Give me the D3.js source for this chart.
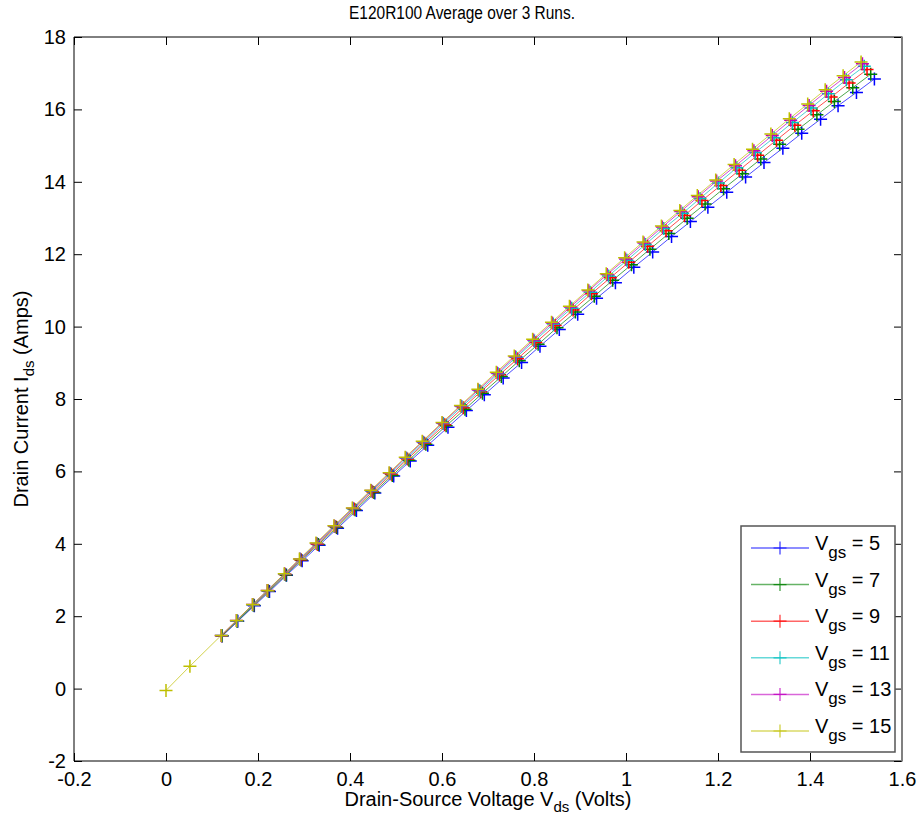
<!DOCTYPE html>
<html>
<head>
<meta charset="utf-8">
<script src="https://cdn.jsdelivr.net/npm/d3@7"></script>
<style>
  html, body { margin: 0; padding: 0; background: #fff; }
  svg text { font-family: "Liberation Sans Narrow", "Arial Narrow", "Liberation Sans", Arial, sans-serif; fill: #000; }
</style>
</head>
<body>
<svg id="chart" width="920" height="828"></svg>
<script>
// Gate-source voltage levels and their colours
const vgsLevels = [5, 7, 9, 11, 13, 15];
const seriesColors = ["#0000ff", "#008000", "#ff0000", "#00bfbf", "#bf00bf", "#bfbf00"];

// Measured drain-source voltage (V) and drain current (A), averaged over 3 runs
const vds5  = [0.122,0.156,0.192,0.225,0.262,0.296,0.333,0.373,0.414,0.454,0.495,0.531,0.569,0.613,0.653,0.692,0.733,0.773,0.813,0.855,0.895,0.936,0.977,1.017,1.058,1.099,1.140,1.178,1.219,1.260,1.300,1.341,1.382,1.423,1.461,1.501,1.540];
const ids5  = [1.45,1.86,2.29,2.68,3.13,3.53,3.96,4.43,4.92,5.40,5.87,6.29,6.72,7.22,7.68,8.12,8.58,9.01,9.46,9.92,10.34,10.78,11.21,11.64,12.06,12.49,12.90,13.30,13.71,14.13,14.53,14.93,15.34,15.73,16.10,16.47,16.84];

const vds7  = [0.122,0.155,0.191,0.223,0.261,0.294,0.331,0.371,0.411,0.452,0.492,0.528,0.565,0.609,0.650,0.688,0.729,0.768,0.809,0.850,0.890,0.931,0.971,1.012,1.052,1.093,1.133,1.172,1.212,1.253,1.293,1.334,1.374,1.415,1.453,1.493,1.532];
const ids7  = [1.46,1.86,2.30,2.69,3.14,3.55,3.98,4.45,4.94,5.42,5.89,6.31,6.75,7.26,7.72,8.16,8.62,9.06,9.51,9.97,10.40,10.84,11.28,11.71,12.14,12.57,12.99,13.39,13.81,14.22,14.63,15.04,15.45,15.85,16.22,16.60,16.97];

const vds9  = [0.121,0.154,0.190,0.222,0.259,0.293,0.329,0.369,0.409,0.449,0.490,0.525,0.562,0.606,0.646,0.684,0.725,0.764,0.804,0.846,0.885,0.925,0.966,1.006,1.047,1.087,1.127,1.165,1.206,1.246,1.286,1.327,1.367,1.407,1.446,1.485,1.524];
const ids9  = [1.46,1.87,2.31,2.70,3.15,3.56,3.99,4.47,4.96,5.44,5.92,6.34,6.78,7.29,7.76,8.20,8.67,9.11,9.56,10.03,10.46,10.91,11.35,11.78,12.22,12.65,13.07,13.48,13.90,14.32,14.73,15.15,15.56,15.96,16.34,16.73,17.10];

const vds11 = [0.121,0.154,0.189,0.221,0.258,0.292,0.328,0.367,0.407,0.447,0.488,0.523,0.560,0.603,0.643,0.682,0.722,0.761,0.801,0.842,0.882,0.922,0.962,1.002,1.042,1.082,1.123,1.161,1.201,1.241,1.281,1.322,1.362,1.402,1.440,1.479,1.518];
const ids11 = [1.47,1.87,2.31,2.70,3.16,3.57,4.01,4.48,4.97,5.46,5.94,6.36,6.80,7.32,7.79,8.23,8.70,9.15,9.60,10.07,10.51,10.95,11.40,11.83,12.27,12.71,13.13,13.54,13.97,14.39,14.81,15.22,15.64,16.04,16.43,16.82,17.19];

const vds13 = [0.120,0.153,0.188,0.220,0.258,0.291,0.327,0.366,0.406,0.446,0.486,0.521,0.558,0.601,0.641,0.679,0.720,0.759,0.799,0.840,0.879,0.919,0.959,0.999,1.039,1.079,1.119,1.157,1.197,1.238,1.278,1.318,1.358,1.398,1.436,1.475,1.514];
const ids13 = [1.47,1.88,2.32,2.71,3.17,3.58,4.01,4.49,4.98,5.47,5.95,6.38,6.82,7.34,7.81,8.25,8.72,9.17,9.63,10.10,10.54,10.99,11.44,11.87,12.31,12.75,13.18,13.59,14.02,14.44,14.86,15.28,15.70,16.11,16.50,16.88,17.26];

const vds15 = [0.000,0.052,0.120,0.153,0.188,0.220,0.257,0.290,0.326,0.365,0.405,0.445,0.485,0.520,0.557,0.600,0.640,0.678,0.718,0.757,0.797,0.838,0.877,0.917,0.957,0.997,1.037,1.077,1.117,1.155,1.195,1.235,1.275,1.315,1.355,1.395,1.433,1.472,1.511];
const ids15 = [-0.05,0.62,1.47,1.88,2.32,2.71,3.17,3.58,4.02,4.50,4.99,5.48,5.96,6.39,6.83,7.35,7.82,8.27,8.74,9.19,9.65,10.12,10.56,11.01,11.46,11.90,12.34,12.78,13.21,13.62,14.05,14.48,14.90,15.32,15.74,16.15,16.54,16.93,17.31];

// Axis tick values
const xTicks = [-0.2, 0, 0.2, 0.4, 0.6, 0.8, 1.0, 1.2, 1.4, 1.6];
const yTicks = [-2, 0, 2, 4, 6, 8, 10, 12, 14, 16, 18];

(function () {
  const vdsSets = [vds5, vds7, vds9, vds11, vds13, vds15];
  const idsSets = [ids5, ids7, ids9, ids11, ids13, ids15];
  const series = vgsLevels.map((vgs, i) => ({
    vgs,
    color: seriesColors[i],
    points: vdsSets[i].map((v, j) => ({ v, i: idsSets[i][j] }))
  }));

  const svg = d3.select("#chart");
  const pL = 74, pR = 902, pT = 37, pB = 761;

  const x = d3.scaleLinear().domain([-0.2, 1.6]).range([pL, pR]);
  const y = d3.scaleLinear().domain([-2, 18]).range([pB, pT]);

  const fmt = d => String(Math.round(d * 10) / 10);
  const tickLen = 8;
  const fontSize = 20;
  const fontStack = '"Liberation Sans Narrow", "Arial Narrow", "Liberation Sans", Arial, sans-serif';

  // Bottom axis with labels, ticks pointing inward
  const gx = svg.append("g").attr("transform", `translate(0,${pB})`)
    .call(d3.axisBottom(x).tickValues(xTicks).tickFormat(fmt).tickSize(-tickLen).tickPadding(10));
  // Top ticks
  const gxTop = svg.append("g").attr("transform", `translate(0,${pT})`)
    .call(d3.axisTop(x).tickValues(xTicks).tickFormat("").tickSize(-tickLen));
  // Left axis with labels
  const gy = svg.append("g").attr("transform", `translate(${pL},0)`)
    .call(d3.axisLeft(y).tickValues(yTicks).tickFormat(fmt).tickSize(-tickLen).tickPadding(8));
  // Right ticks
  const gyRight = svg.append("g").attr("transform", `translate(${pR},0)`)
    .call(d3.axisRight(y).tickValues(yTicks).tickFormat("").tickSize(-tickLen));

  [gx, gxTop, gy, gyRight].forEach(g => {
    g.select(".domain").remove();
    g.selectAll(".tick line").attr("stroke", "#000").attr("stroke-width", 1);
    g.selectAll(".tick text").attr("font-size", fontSize)
      .style("font-family", fontStack).attr("fill", "#000");
  });
  gx.selectAll(".tick text").attr("dy", "0.75em");

  // Series lines and "+" markers (Vgs = 5 first, Vgs = 15 on top)
  const line = d3.line().x(d => x(d.v)).y(d => y(d.i));
  const plot = svg.append("g");
  const half = 6.5;
  const plusPath = `M${-half},0H${half}M0,${-half}V${half}`;

  series.forEach(s => {
    const g = plot.append("g");
    g.append("path").datum(s.points)
      .attr("d", line)
      .attr("fill", "none")
      .attr("stroke", s.color)
      .attr("stroke-opacity", 0.7)
      .attr("stroke-width", 1);
    g.selectAll("path.mk").data(s.points).join("path")
      .attr("class", "mk")
      .attr("transform", d => `translate(${x(d.v)},${y(d.i)})`)
      .attr("d", plusPath)
      .attr("stroke", s.color)
      .attr("stroke-width", 1.5)
      .attr("fill", "none");
  });

  // Axes frame
  svg.append("path")
    .attr("d", `M${pR},${pT}H${pL}V${pB}H${pR}`)
    .attr("fill", "none").attr("stroke", "#000").attr("stroke-width", 1);
  svg.append("line").attr("x1", pR).attr("x2", pR).attr("y1", pT - 0.5).attr("y2", pB + 0.5)
    .attr("stroke", "#808080").attr("stroke-width", 2);

  // Title (condensed face)
  svg.append("text").attr("x", 462).attr("y", 19)
    .attr("text-anchor", "middle").attr("font-size", 18)
    .attr("textLength", 226).attr("lengthAdjust", "spacingAndGlyphs")
    .text("E120R100 Average over 3 Runs.");

  // X axis label with subscript
  const xl = svg.append("text").attr("x", (pL + pR) / 2).attr("y", 806)
    .attr("text-anchor", "middle").attr("font-size", fontSize);
  xl.append("tspan").text("Drain-Source Voltage V");
  xl.append("tspan").attr("dy", 6).attr("font-size", 15).text("ds");
  xl.append("tspan").attr("dy", -6).text(" (Volts)");

  // Y axis label with subscript
  const yl = svg.append("text")
    .attr("transform", `translate(28,${(pT + pB) / 2}) rotate(-90)`)
    .attr("text-anchor", "middle").attr("font-size", fontSize);
  yl.append("tspan").text("Drain Current I");
  yl.append("tspan").attr("dy", 6).attr("font-size", 15).text("ds");
  yl.append("tspan").attr("dy", -6).text(" (Amps)");

  // Legend
  const lg = svg.append("g");
  const lgX = 741, lgY = 526, lgW = 154, lgH = 226;
  lg.append("rect").attr("x", lgX).attr("y", lgY).attr("width", lgW).attr("height", lgH)
    .attr("fill", "#fff").attr("stroke", "#555").attr("stroke-width", 1.5);
  const rowStep = 36.6, firstRow = lgY + 22;
  series.forEach((s, k) => {
    const ry = firstRow + k * rowStep;
    lg.append("line").attr("x1", lgX + 10).attr("x2", lgX + 68).attr("y1", ry).attr("y2", ry)
      .attr("stroke", s.color).attr("stroke-opacity", 0.6).attr("stroke-width", 1.5);
    lg.append("path").attr("transform", `translate(${lgX + 39},${ry})`)
      .attr("d", plusPath).attr("stroke", s.color).attr("stroke-opacity", 0.8).attr("stroke-width", 1.2);
    const t = lg.append("text").attr("x", lgX + 74).attr("y", ry + 2).attr("font-size", fontSize);
    t.append("tspan").text("V");
    t.append("tspan").attr("dy", 8).attr("font-size", 17).text("gs");
    t.append("tspan").attr("dy", -8).text(" = " + s.vgs);
  });
})();
</script>
</body>
</html>
